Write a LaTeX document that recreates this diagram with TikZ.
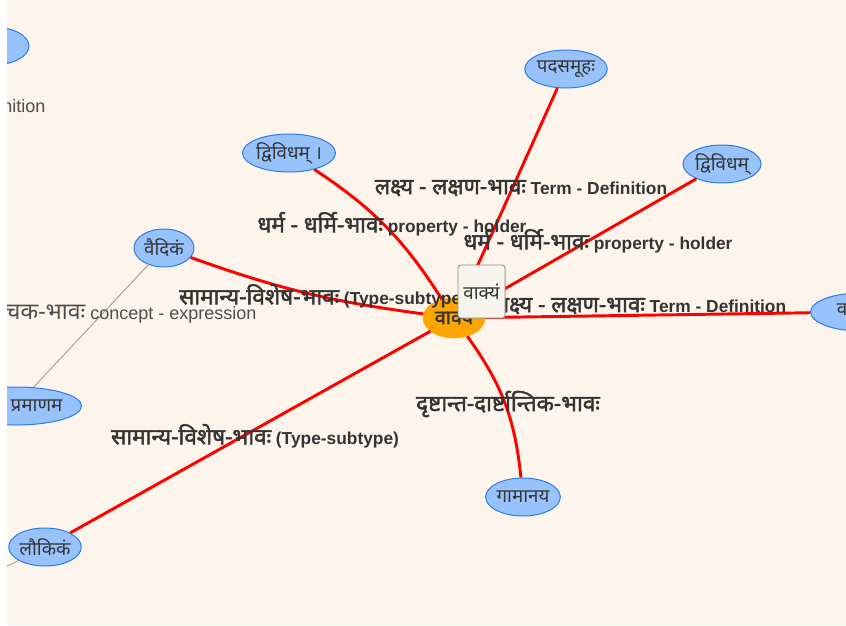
\documentclass[tikz,border=0pt]{standalone}
\usepackage{fontspec}
\setmainfont{Liberation Sans}
\newfontfamily\dev[Script=Devanagari,Scale=1.28]{Noto Sans}
\newfontfamily\devb[Script=Devanagari,Scale=1.3,FakeBold=2]{Noto Sans}
\usetikzlibrary{shapes.geometric,shadows}
\definecolor{bg}{HTML}{FDF5EB}
\definecolor{nfill}{HTML}{97C2FC}
\definecolor{nborder}{HTML}{2B7CE9}
\definecolor{txt}{HTML}{343434}
\definecolor{gtxt}{HTML}{4D4D4D}
\definecolor{gline}{HTML}{A8A29A}
\definecolor{tipfill}{HTML}{F5F4ED}
\definecolor{tipdraw}{HTML}{8C8C84}
\definecolor{ctr}{HTML}{FFA500}
\newcommand\dv[1]{{\dev #1}}
\newcommand\db[1]{{\devb\mdseries #1}}
\begin{document}
\begin{tikzpicture}[x=0.75pt,y=-0.75pt,
 leaf/.style={ellipse,draw=nborder,fill=nfill,line width=0.75pt,inner sep=0pt,minimum height=28.5pt,text=txt,font=\dev\fontsize{11}{13}\selectfont},
 rel/.style={draw=red,line width=2.2pt},
 thinrel/.style={draw=gline,line width=0.75pt},
 lbl/.style={text=txt,font=\fontsize{13}{15}\selectfont\bfseries,inner sep=1pt},
 plain/.style={text=gtxt,font=\fontsize{13.5}{15}\selectfont,inner sep=1pt}]
\fill[white] (0,0) rectangle (846,625);
\fill[bg] (7,0) rectangle (846,625);
\useasboundingbox (0,0) rectangle (846,625);
\begin{scope}
\clip (7,0) rectangle (846,625);
% nodes
\node[ellipse,fill=ctr,draw=ctr,minimum width=46.5pt,minimum height=30pt,inner sep=0pt,text=txt,font=\fontsize{11.5}{13}\selectfont] (c) at (454,318) {\db{वाक्य}};
\node[leaf,minimum width=61.5pt] (pad) at (566,69) {पदसमूहः};
\node[leaf,minimum width=58.5pt] (dvr) at (722,164) {द्विविधम्};
\node[leaf,minimum width=67.5pt] (dvl) at (289,153) {द्विविधम् ।};
\node[leaf,minimum width=45pt] (vai) at (164,248) {वैदिकं};
\node[leaf,minimum width=54pt] (lau) at (45,547) {लौकिकं};
\node[leaf,minimum width=55.5pt] (gam) at (523,497) {गामानय};
\node[leaf,anchor=east,minimum width=90pt] (pra) at (82,406) {वाक्य प्रमाणम};
\node[leaf,anchor=west,minimum width=75pt] (vr) at (810,312) {वाक्यम्};
\node[leaf,minimum width=54pt] (tl) at (-7,46) {};
\coordinate (off) at (-30,585);
% edges
\draw[thinrel] (vai) -- (pra);
\draw[thinrel] (lau) -- (off);
\draw[rel] (c) -- (pad);
\draw[rel] (c) -- (dvr);
\draw[rel] (dvl) to[bend left=12] (c);
\draw[rel] (vai) to[bend right=6] (c);
\draw[rel] (c) -- (vr);
\draw[rel] (c) -- (lau);
\draw[rel] (c) to[bend left=15] (gam);
% labels
\node[lbl] (l1) at (521,188) {\db{लक्ष्य - लक्षण-भावः} Term - Definition};
\node[lbl] (l2) at (392,224) {\db{धर्म - धर्मि-भावः} property - holder};
\node[lbl] (l3) at (598,241) {\db{धर्म - धर्मि-भावः} property - holder};
\node[lbl] (l4) at (323,296) {\db{सामान्य-विशेष-भावः} (Type-subtype)};
\node[lbl] (l5) at (640,306) {\db{लक्ष्य - लक्षण-भावः} Term - Definition};
\node[lbl] (l6) at (255,436) {\db{सामान्य-विशेष-भावः} (Type-subtype)};
\node[lbl] (l7) at (508,404) {\db{दृष्टान्त-दार्ष्टान्तिक-भावः}};
\node[plain,anchor=east] (ce) at (258,314) {\dv{वाच्य-वाचक-भावः} concept - expression};
\node[plain,anchor=east] (tdef) at (47,106) {Term - Definition};
% tooltip
\node[draw=tipdraw,fill=tipfill,rounded corners=2pt,minimum width=35.25pt,minimum height=39.75pt,inner sep=0pt,line width=0.6pt,
  drop shadow={opacity=0.2,shadow xshift=1pt,shadow yshift=-1pt},text=txt,font=\dev\fontsize{11}{13}\selectfont] (tip) at (481.5,291.5) {वाक्यं};
\end{scope}
\end{tikzpicture}
\end{document}
